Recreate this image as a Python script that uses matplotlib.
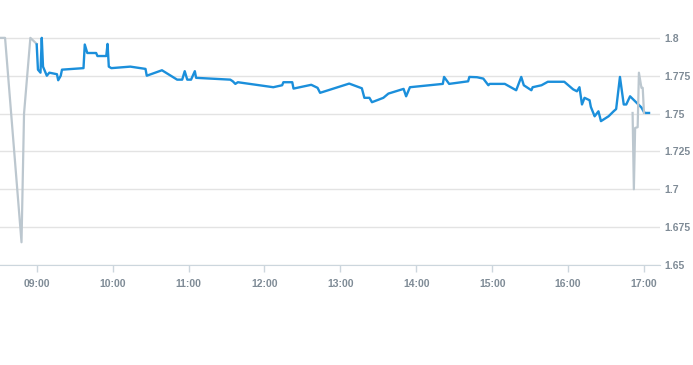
# -*- coding: utf-8 -*-
"""
use: intraday price chart, regular session (blue) and pre/post market (gray)
"""

# import packages =============================================================

import pandas as pd
import matplotlib.pyplot as plt
import matplotlib.dates as mdates

# data ========================================================================

day = "2024-01-02 "

pre_times = ["08:31", "08:35", "08:48", "08:50", "08:55", "09:00"]
pre_prices = [1.800, 1.800, 1.665, 1.750, 1.800, 1.796]

session_times = [
    "09:00", "09:01", "09:03", "09:04", "09:05", "09:08", "09:10", "09:16",
    "09:17", "09:19", "09:20", "09:37", "09:38", "09:40", "09:47", "09:48",
    "09:55", "09:56", "09:57", "09:59", "10:14", "10:26", "10:27", "10:39",
    "10:51", "10:55", "10:57", "10:59", "11:02", "11:05", "11:06", "11:33",
    "11:35", "11:37", "11:39", "12:07", "12:14", "12:15", "12:22", "12:23",
    "12:28", "12:37", "12:42", "12:44", "13:07", "13:17", "13:19", "13:23",
    "13:25", "13:34", "13:38", "13:50", "13:52", "13:55", "14:21", "14:22",
    "14:26", "14:41", "14:42", "14:48", "14:53", "14:57", "14:58", "15:10",
    "15:19", "15:23", "15:25", "15:31", "15:32", "15:39", "15:44", "15:57",
    "16:04", "16:07", "16:09", "16:11", "16:13", "16:17", "16:18", "16:21",
    "16:22", "16:24", "16:26", "16:32", "16:36", "16:38", "16:41", "16:44",
    "16:46", "16:49", "16:58", "17:00", "17:01", "17:04",
]
session_prices = [
    1.7956, 1.779, 1.777, 1.800, 1.781, 1.775, 1.777, 1.776,
    1.772, 1.775, 1.779, 1.780, 1.7956, 1.790, 1.790, 1.788,
    1.788, 1.796, 1.781, 1.780, 1.781, 1.7795, 1.775, 1.7786,
    1.7724, 1.7724, 1.778, 1.7724, 1.7724, 1.778, 1.7736, 1.7724,
    1.7713, 1.7696, 1.7707, 1.7674, 1.7687, 1.7707, 1.7707, 1.7665,
    1.7674, 1.769, 1.767, 1.7637, 1.7698, 1.7667, 1.7604, 1.7604,
    1.7575, 1.7604, 1.7632, 1.7663, 1.7614, 1.7674, 1.7696, 1.7742,
    1.7696, 1.7713, 1.7742, 1.774, 1.7731, 1.7687, 1.7696, 1.7696,
    1.7654, 1.7742, 1.7687, 1.7654, 1.7674, 1.7687, 1.771, 1.771,
    1.766, 1.7647, 1.7674, 1.756, 1.7604, 1.7588, 1.7544, 1.7482,
    1.7493, 1.7515, 1.745, 1.7482, 1.7515, 1.753, 1.7742, 1.756,
    1.756, 1.7614, 1.754, 1.751, 1.7504, 1.7504,
]

post_times = ["16:51", "16:52", "16:53", "16:55", "16:56", "16:58", "16:59", "17:00"]
post_prices = [1.7504, 1.700, 1.7405, 1.741, 1.777, 1.767, 1.767, 1.7504]

x_ticks = ["09:00", "10:00", "11:00", "12:00", "13:00", "14:00", "15:00", "16:00", "17:00"]
y_ticks = [1.65, 1.675, 1.7, 1.725, 1.75, 1.775, 1.8]
y_labels = ["1.65", "1.675", "1.7", "1.725", "1.75", "1.775", "1.8"]

to_dt = lambda ts: pd.to_datetime([day + t for t in ts])

# plot ========================================================================

plt.rcParams["font.family"] = ["Liberation Sans", "DejaVu Sans"]

fig = plt.figure(figsize=(6.93, 3.65), dpi=100)
ax = fig.add_axes([0.0, 0.274, 0.953, 0.726])

gray = "#bcc7cf"
blue = "#1b8fdb"

ax.plot(to_dt(pre_times), pre_prices, color=gray, lw=1.6, zorder=3)
ax.plot(to_dt(session_times), session_prices, color=blue, lw=1.7, zorder=4)
ax.plot(to_dt(post_times), post_prices, color=gray, lw=1.6, zorder=5)

ax.set_xlim(pd.Timestamp(day + "08:31"), pd.Timestamp(day + "17:13"))
ax.set_ylim(1.65, 1.825)

ax.set_xticks(to_dt(x_ticks))
ax.xaxis.set_major_formatter(mdates.DateFormatter("%H:%M"))
ax.set_yticks(y_ticks)
ax.set_yticklabels(y_labels)

ax.yaxis.tick_right()
ax.grid(axis="y", color="#e3e3e3", lw=1)
ax.set_axisbelow(True)

for side in ["top", "right", "left"]:
    ax.spines[side].set_visible(False)
ax.spines["bottom"].set_color("#ccd6dd")

ax.tick_params(axis="x", colors="#ccd6dd", length=5, width=1, labelcolor="#7f8b96",
               labelsize=7.5, pad=5)
ax.tick_params(axis="y", length=0, labelcolor="#7f8b96", labelsize=7.5, pad=3)
for lab in ax.get_xticklabels() + ax.get_yticklabels():
    lab.set_fontweight("bold")

fig.savefig("out.png", dpi=100)
